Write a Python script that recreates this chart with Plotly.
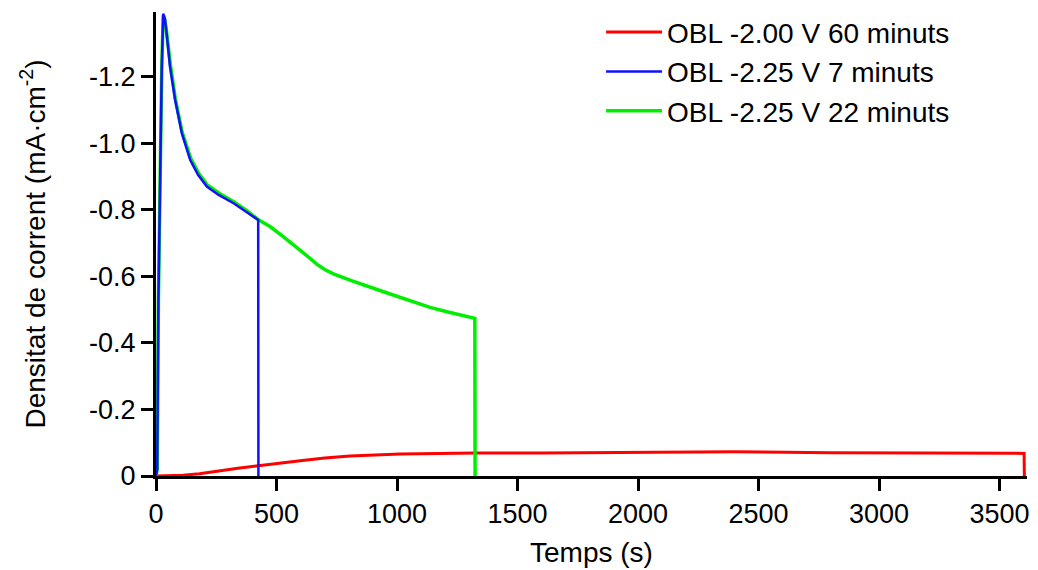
import plotly.graph_objects as go

# Data
t_red = [0, 50, 112, 180, 252, 340, 425, 500, 598, 700, 805, 1013, 1220, 1324,
         1600, 2000, 2400, 2800, 3200, 3602, 3603]
j_red = [0, 0, -0.002, -0.007, -0.015, -0.023, -0.031, -0.038, -0.046, -0.054,
         -0.060, -0.066, -0.069, -0.069, -0.069, -0.070, -0.073, -0.070, -0.069,
         -0.068, 0]

t_blue = [0, 5, 10, 18, 24, 30, 37, 44, 58, 79, 107, 142, 175, 211, 260, 322, 375,
          424, 425]
j_blue = [0, -0.02, -0.53, -1.01, -1.23, -1.39, -1.375, -1.331, -1.231, -1.132,
          -1.031, -0.950, -0.905, -0.870, -0.845, -0.820, -0.795, -0.770, 0]

t_green = [0, 5, 10, 18, 24, 30, 37, 44, 60, 80, 108, 144, 177, 213, 262, 324, 377,
           425, 473, 528, 598, 640, 667, 700, 736, 805, 944, 1013, 1137, 1207, 1323,
           1324]
j_green = [0, -0.02, -0.53, -1.01, -1.23, -1.385, -1.37, -1.335, -1.235, -1.135,
           -1.035, -0.955, -0.910, -0.875, -0.850, -0.824, -0.798, -0.770, -0.750,
           -0.720, -0.680, -0.654, -0.637, -0.621, -0.608, -0.589, -0.554, -0.537,
           -0.507, -0.494, -0.474, 0]

names = ["OBL -2.00 V 60 minuts", "OBL -2.25 V 7 minuts", "OBL -2.25 V 22 minuts"]

x_ticks = [0, 500, 1000, 1500, 2000, 2500, 3000, 3500]
y_ticks = [0, -0.2, -0.4, -0.6, -0.8, -1.0, -1.2]
y_ticktext = ["0", "-0.2", "-0.4", "-0.6", "-0.8", "-1.0", "-1.2"]

FONT = "Liberation Sans, Arial, sans-serif"

fig = go.Figure()
fig.add_trace(go.Scatter(x=t_red, y=j_red, mode="lines", name=names[0],
                         line=dict(color="#ff0000", width=3), legendrank=1))
fig.add_trace(go.Scatter(x=t_green, y=j_green, mode="lines", name=names[2],
                         line=dict(color="#00ee00", width=3.5), legendrank=3))
fig.add_trace(go.Scatter(x=t_blue, y=j_blue, mode="lines", name=names[1],
                         line=dict(color="#1010ff", width=2.5), legendrank=2))

axis_common = dict(showline=True, linecolor="black", linewidth=3,
                   ticks="outside", ticklen=12, tickwidth=2.5, tickcolor="black",
                   showgrid=False, zeroline=False,
                   tickfont=dict(family=FONT, size=27, color="black"))

fig.update_xaxes(range=[0, 3614], tickvals=x_ticks,
                 title=dict(text="Temps (s)", font=dict(family=FONT, size=28, color="black"),
                            standoff=14),
                 **axis_common)
fig.update_yaxes(range=[0, -1.395], tickvals=y_ticks, ticktext=y_ticktext,
                 title=dict(text="Densitat de corrent (mA·cm<sup>-2</sup>)",
                            font=dict(family=FONT, size=28, color="black"),
                            standoff=36),
                 **axis_common)

# the page body adds an 8px offset; compensate so the plot area matches
fig.update_layout(
    width=1030, height=562,
    margin=dict(l=148, r=11, t=4, b=94, autoexpand=False),
    plot_bgcolor="white", paper_bgcolor="white",
    font=dict(family=FONT, color="black"),
    showlegend=True,
    legend=dict(x=0.511, y=1.01, xanchor="left", yanchor="top",
                font=dict(family=FONT, size=28, color="black"),
                bgcolor="rgba(0,0,0,0)", tracegroupgap=0, itemwidth=56),
)

fig.write_html("out.html")
